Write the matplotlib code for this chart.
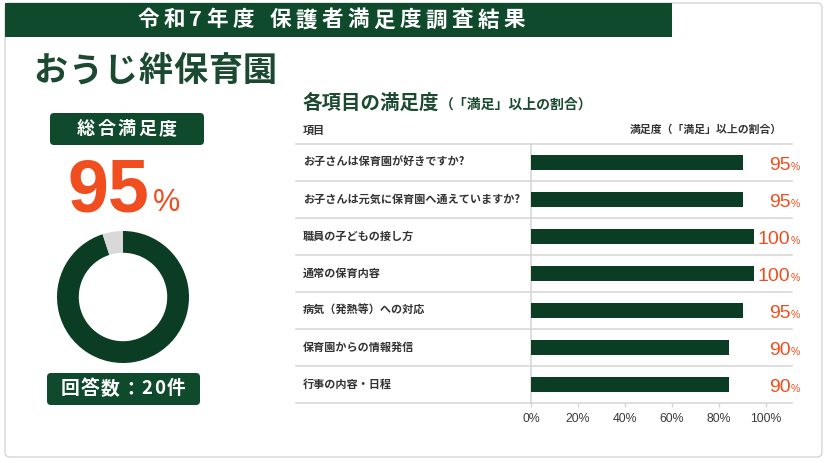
import matplotlib
matplotlib.use("Agg")
import matplotlib.pyplot as plt
from matplotlib.patches import FancyBboxPatch, Rectangle
from matplotlib import transforms

plt.rcParams['font.family'] = ['Noto Sans CJK JP', 'DejaVu Sans']

# ---------------- data ----------------
banner_title = "令和7年度 保護者満足度調査結果"
nursery_name = "おうじ絆保育園"
overall_label = "総合満足度"
overall = 95
responses_label = "回答数：20件"
chart_title = "各項目の満足度"
chart_subtitle = "（「満足」以上の割合）"
col_item = "項目"
col_value = "満足度（「満足」以上の割合）"
items = [
    "お子さんは保育園が好きですか?",
    "お子さんは元気に保育園へ通えていますか?",
    "職員の子どもの接し方",
    "通常の保育内容",
    "病気（発熱等）への対応",
    "保育園からの情報発信",
    "行事の内容・日程",
]
bar_lengths = [90, 90, 95, 95, 90, 84, 84]        # bar lengths as drawn
value_labels = [95, 95, 100, 100, 95, 90, 90]     # printed percentages
xticks = [0, 20, 40, 60, 80, 100]
xtick_labels = ["0%", "20%", "40%", "60%", "80%", "100%"]

# ---------------- style ----------------
GREEN = '#0f4a2c'
BAR = '#0b3d24'
TXTGREEN = '#1b4a30'
ORANGE = '#f04e1f'
GRAY = '#d4d4d4'
DARK = '#333333'
NUM = 'Liberation Sans'

W, H = 827, 463
fig = plt.figure(figsize=(W / 100, H / 100), dpi=100)
fig.patch.set_facecolor('white')
bg = fig.add_axes([0, 0, 1, 1])
bg.set_xlim(0, W)
bg.set_ylim(H, 0)
bg.axis('off')
bg.set_zorder(0)
renderer = fig.canvas.get_renderer()


def spaced(ax, x, y, s, spacing, ha='center', **kw):
    texts, widths = [], []
    for ch in s:
        t = ax.text(0, y, ch, ha='left', **kw)
        if ch == ' ':
            w = kw.get('fontsize', 10) * 100 / 72 * 0.3
        else:
            w = t.get_window_extent(renderer).width
        texts.append(t)
        widths.append(w)
    total = sum(widths) + spacing * (len(s) - 1)
    cx = x - total / 2 if ha == 'center' else x
    for t, w in zip(texts, widths):
        t.set_x(cx)
        cx += w + spacing


# card
bg.add_patch(FancyBboxPatch((5, 3), 817, 454, boxstyle="round,pad=0,rounding_size=5",
                            fc='white', ec='#d6d6d6', lw=1.0))
# banner
bg.add_patch(Rectangle((5, 3), 667, 34, fc=GREEN, ec='none'))
spaced(bg, 331, 20, banner_title, 4.5, fontsize=15.5, color='white',
       weight='bold', va='center')

# nursery name
spaced(bg, 33, 71, nursery_name, 1.0, ha='left', fontsize=24.5, color=TXTGREEN,
       weight='bold', va='center')

# overall box
bg.add_patch(FancyBboxPatch((50, 113), 154, 32, boxstyle="round,pad=0,rounding_size=4",
                            fc=GREEN, ec='none'))
spaced(bg, 127, 129, overall_label, 2.5, fontsize=13, color='white',
       weight='bold', va='center')

# big 95 %
bg.text(149, 211, f"{overall}", ha='right', va='baseline', fontsize=53,
        color=ORANGE, weight='bold', family=NUM)
bg.text(153, 211, "%", ha='left', va='baseline', fontsize=22,
        color=ORANGE, family=NUM)

# donut
dax = fig.add_axes([(123 - 66) / W, (H - 297 - 66) / H, 132 / W, 132 / H])
dax.pie([overall, 100 - overall], colors=[BAR, '#d9d9d9'], startangle=90,
        counterclock=False, wedgeprops=dict(width=0.33, linewidth=0))
dax.set_xlim(-1, 1)
dax.set_ylim(-1, 1)
dax.set_aspect('equal')
dax.axis('off')

# responses box
bg.add_patch(FancyBboxPatch((47, 373), 153, 32, boxstyle="round,pad=0,rounding_size=4",
                            fc=GREEN, ec='none'))
spaced(bg, 123, 389, responses_label, 1.5, fontsize=13.5, color='white',
       weight='bold', va='center')

# chart titles
t1 = bg.text(302, 109, chart_title, ha='left', va='baseline', fontsize=14,
             color=TXTGREEN, weight='bold')
x_end = 302 + t1.get_window_extent(renderer).width
bg.text(x_end + 1, 109, chart_subtitle, ha='left', va='baseline', fontsize=10,
        color=TXTGREEN, weight='bold')
bg.text(303, 130, col_item, ha='left', va='center', fontsize=8, color=DARK, weight='bold')
bg.text(782, 130, col_value, ha='right', va='center', fontsize=7.8, color=DARK, weight='bold')

# bar chart
x0, x1, ytop, ybot = 531, 792, 144, 403
ax = fig.add_axes([x0 / W, (H - ybot) / H, (x1 - x0) / W, (ybot - ytop) / H])
ax.set_zorder(2)
ax.patch.set_alpha(0)
n = len(items)
ypos = list(range(n))
ax.barh(ypos, bar_lengths, height=0.41, color=BAR, zorder=3)
ax.set_xlim(0, 111)
ax.set_ylim(n - 0.5, -0.5)
for s in ['top', 'right', 'bottom']:
    ax.spines[s].set_visible(False)
ax.spines['left'].set_color(GRAY)
ax.spines['left'].set_linewidth(1.1)
ax.set_yticks([])
ax.set_xticks(xticks)
ax.set_xticklabels(xtick_labels, family=NUM, fontsize=8.8, color='#3a3a3a')
ax.tick_params(axis='x', length=3, width=1, color=GRAY, pad=4)

mix = transforms.blended_transform_factory(bg.transData, ax.transData)
for k in range(n + 1):
    ax.plot([296, 792], [k - 0.5, k - 0.5], transform=mix, color=GRAY, lw=1.1,
            clip_on=False, zorder=1)

for i, (lab, v) in enumerate(zip(items, value_labels)):
    ax.text(303, i, lab, transform=mix, ha='left', va='center', fontsize=8.0,
            color=DARK, weight='bold', clip_on=False)
    ax.text(800, i + 0.2, "%", transform=mix, ha='right', va='baseline',
            fontsize=7.5, color=ORANGE, family=NUM, clip_on=False)
    ax.text(790.5, i + 0.2, f"{v}", transform=mix, ha='right', va='baseline',
            fontsize=14, color=ORANGE, family=NUM, clip_on=False)

fig.savefig("out.png", dpi=100, facecolor='white')
